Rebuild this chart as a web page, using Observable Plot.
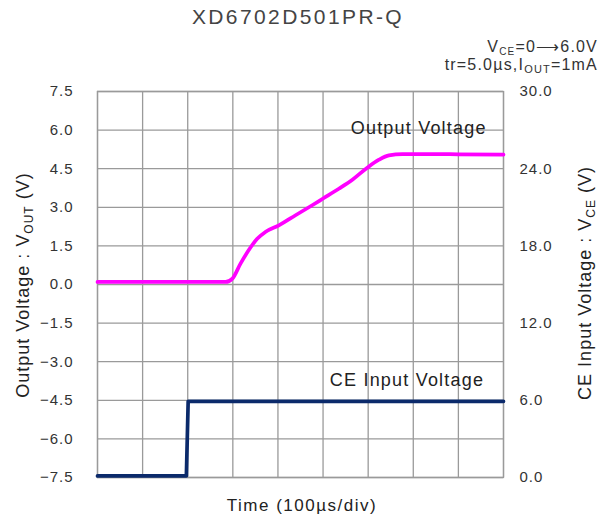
<!DOCTYPE html>
<html><head><meta charset="utf-8">
<script src="https://cdn.jsdelivr.net/npm/d3@7"></script>
<script src="https://cdn.jsdelivr.net/npm/@observablehq/plot@0.6"></script>
<style>
body{margin:0;background:#fff;}
#chart{width:601px;height:524px;}
svg text{font-family:"Liberation Sans",Arial,sans-serif;}
</style></head><body><div id="chart"></div>
<script>
// Output voltage trace (time in µs, V)
const voutTime  = [0, 100, 200, 284, 299, 317, 335, 354, 372, 402, 439, 476, 500, 535, 565, 598, 624, 646, 676, 750, 800, 900];
const voutValue = [0.1, 0.1, 0.1, 0.1, 0.23, 0.81, 1.33, 1.78, 2.04, 2.30, 2.69, 3.08, 3.34, 3.72, 4.07, 4.54, 4.85, 5.02, 5.07, 5.07, 5.06, 5.05];
// CE input voltage trace (time in µs, V on right axis)
const ceTime  = [0, 100, 197, 201, 300, 500, 700, 900];
const ceValue = [0.12, 0.12, 0.12, 5.92, 5.92, 5.92, 5.92, 5.92];

const leftTicks  = [-7.5, -6, -4.5, -3, -1.5, 0, 1.5, 3, 4.5, 6, 7.5];
const rightTicks = [0, 6, 12, 18, 24, 30];
const timeTicks  = [0, 100, 200, 300, 400, 500, 600, 700, 800, 900];

const seriesLabels = [
  {name: "Output Voltage",   t: 712, v: 5.85},
  {name: "CE Input Voltage", t: 686, v: -3.95}
];

const ceToLeft = v => v / 30 * 15 - 7.5;
const leftToCe = v => (v + 7.5) * 2;
const vout = voutTime.map((t, i) => ({t, v: voutValue[i]}));
const ce = ceTime.map((t, i) => ({t, v: ceToLeft(ceValue[i])}));
const fmt = v => (v < 0 ? "\u2212" : "") + Math.abs(v).toFixed(1);
const gridStyle = {stroke: "#9a9a9a", strokeOpacity: 1, strokeWidth: 1.3};

const plot = Plot.plot({
  width: 601, height: 524,
  marginLeft: 97, marginRight: 98, marginTop: 91, marginBottom: 47,
  x: {domain: [0, 900], axis: null},
  y: {domain: [-7.5, 7.5]},
  style: {fontSize: "15px", fontFamily: "'Liberation Sans', Arial, sans-serif", color: "#333", background: "#fff"},
  marks: [
    Plot.gridX(timeTicks, gridStyle),
    Plot.gridY(leftTicks, gridStyle),
    Plot.frame({stroke: "#9a9a9a", strokeWidth: 1.3}),
    Plot.axisY(leftTicks, {anchor: "left", tickSize: 0, tickPadding: 24, tickFormat: fmt, label: null, fill: "#333"}),
    Plot.axisY(rightTicks.map(ceToLeft), {anchor: "right", tickSize: 0, tickPadding: 16, tickFormat: v => leftToCe(v).toFixed(1), label: null, fill: "#333"}),
    Plot.line(ce, {x: "t", y: "v", stroke: "#0b2a6b", strokeWidth: 3.7}),
    Plot.line(vout, {x: "t", y: "v", stroke: "#ff00ff", strokeWidth: 3.7, curve: "monotone-x"}),
    Plot.text(seriesLabels, {x: "t", y: "v", text: "name", lineAnchor: "bottom", fontSize: 18, fill: "#222", stroke: null})
  ]
});
document.getElementById("chart").appendChild(plot);

const svg = d3.select(plot);
svg.selectAll("text").filter(function(){ return this.closest("g[aria-label='text']"); }).style("letter-spacing", "1.2px");
svg.selectAll("g[aria-label^='y-axis'] text").style("letter-spacing", "1px");

// Title
svg.append("text").attr("x", 298).attr("y", 24).attr("text-anchor", "middle")
  .style("font-size", "21px").style("letter-spacing", "2.4px").attr("fill", "#444").text("XD6702D501PR-Q");

// Conditions
const c1 = svg.append("text").attr("x", 598).attr("y", 52).attr("text-anchor", "end").style("font-size", "16px").style("letter-spacing", "1.2px").attr("fill", "#333");
c1.append("tspan").text("V");
c1.append("tspan").attr("dy", 3).style("font-size", "10px").text("CE");
c1.append("tspan").attr("dy", -3).text("=0\u27f66.0V");

const c2 = svg.append("text").attr("x", 598).attr("y", 70).attr("text-anchor", "end").style("font-size", "16px").style("letter-spacing", "1.2px").attr("fill", "#333");
c2.append("tspan").text("tr=5.0\u00b5s,I");
c2.append("tspan").attr("dy", 3).style("font-size", "11px").text("OUT");
c2.append("tspan").attr("dy", -3).text("=1mA");

// Left axis title
const lt = svg.append("text").attr("transform", "translate(29,285) rotate(-90)").attr("text-anchor", "middle")
  .style("font-size", "18px").style("letter-spacing", "1px").attr("fill", "#222");
lt.append("tspan").text("Output Voltage : V");
lt.append("tspan").attr("dy", 4).style("font-size", "12px").text("OUT");
lt.append("tspan").attr("dy", -4).text(" (V)");

// Right axis title
const rt = svg.append("text").attr("transform", "translate(591,283) rotate(-90)").attr("text-anchor", "middle")
  .style("font-size", "18px").style("letter-spacing", "1px").attr("fill", "#222");
rt.append("tspan").text("CE Input Voltage : V");
rt.append("tspan").attr("dy", 4).style("font-size", "12px").text("CE");
rt.append("tspan").attr("dy", -4).text(" (V)");

// X axis title
svg.append("text").attr("x", 302).attr("y", 511).attr("text-anchor", "middle")
  .style("font-size", "17px").style("letter-spacing", "1.5px").attr("fill", "#222").text("Time (100\u00b5s/div)");
</script></body></html>
